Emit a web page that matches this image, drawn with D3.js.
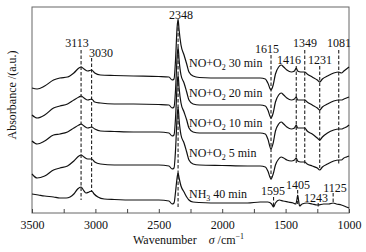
<!DOCTYPE html>
<html><head><meta charset="utf-8">
<script src="https://cdn.jsdelivr.net/npm/d3@7"></script>
<style>
body{margin:0;background:#fff}
svg{display:block}
text{font-family:"Liberation Serif","Times New Roman",serif;fill:#111}
</style>
</head><body>
<svg id="chart" width="366" height="252"></svg>
<script>
// ---- data (wavenumber cm^-1, absorbance a.u.) ----
const seriesNO30 = [[3500,1.25],[3460,1.24],[3400,1.27],[3330,1.33],[3280,1.35],[3220,1.36],[3170,1.40],[3130,1.45],[3113,1.46],[3090,1.44],[3060,1.42],[3030,1.43],[3005,1.40],[2960,1.38],[2850,1.375],[2700,1.37],[2500,1.365],[2420,1.36],[2395,1.33],[2380,1.34],[2368,1.53],[2356,1.85],[2348,1.94],[2340,1.83],[2325,1.68],[2301,1.58],[2280,1.49],[2262,1.41],[2230,1.37],[2180,1.355],[2000,1.35],[1800,1.35],[1700,1.35],[1660,1.34],[1640,1.30],[1615,1.23],[1598,1.28],[1580,1.39],[1555,1.46],[1535,1.48],[1515,1.46],[1490,1.43],[1455,1.41],[1430,1.42],[1416,1.45],[1405,1.42],[1380,1.41],[1349,1.41],[1330,1.39],[1290,1.36],[1250,1.33],[1231,1.31],[1210,1.34],[1170,1.37],[1120,1.40],[1081,1.41],[1060,1.40],[1040,1.42],[1020,1.44],[1000,1.46]];
const seriesNO20 = [[3500,0.98],[3460,0.95],[3400,0.98],[3330,1.05],[3280,1.07],[3220,1.09],[3170,1.13],[3130,1.16],[3113,1.17],[3090,1.15],[3060,1.13],[3030,1.14],[3005,1.11],[2960,1.10],[2850,1.09],[2700,1.09],[2500,1.085],[2420,1.08],[2395,1.05],[2380,1.06],[2368,1.23],[2356,1.55],[2348,1.66],[2340,1.53],[2325,1.38],[2301,1.30],[2280,1.21],[2262,1.13],[2230,1.09],[2180,1.08],[2000,1.08],[1800,1.08],[1700,1.08],[1660,1.07],[1640,1.03],[1615,0.95],[1598,1.00],[1580,1.11],[1555,1.18],[1535,1.20],[1515,1.18],[1490,1.15],[1455,1.13],[1430,1.14],[1416,1.16],[1405,1.13],[1380,1.13],[1349,1.13],[1330,1.11],[1290,1.08],[1250,1.05],[1231,1.03],[1210,1.06],[1170,1.09],[1120,1.12],[1081,1.13],[1060,1.13],[1040,1.14],[1020,1.15],[1000,1.16]];
const seriesNO10 = [[3500,0.72],[3460,0.69],[3400,0.72],[3330,0.78],[3280,0.79],[3220,0.81],[3170,0.85],[3130,0.88],[3113,0.89],[3090,0.87],[3060,0.85],[3030,0.86],[3005,0.84],[2960,0.82],[2850,0.815],[2700,0.81],[2500,0.81],[2420,0.80],[2395,0.77],[2380,0.78],[2368,0.95],[2356,1.27],[2348,1.38],[2340,1.25],[2325,1.10],[2301,1.01],[2280,0.93],[2262,0.85],[2230,0.81],[2180,0.80],[2000,0.80],[1800,0.80],[1700,0.80],[1660,0.79],[1640,0.74],[1615,0.64],[1598,0.70],[1580,0.82],[1555,0.89],[1535,0.91],[1515,0.89],[1490,0.86],[1455,0.84],[1430,0.85],[1416,0.88],[1405,0.85],[1380,0.85],[1349,0.85],[1330,0.82],[1290,0.79],[1250,0.75],[1231,0.73],[1210,0.76],[1170,0.80],[1120,0.83],[1081,0.84],[1060,0.84],[1040,0.85],[1020,0.86],[1000,0.88]];
const seriesNO5 = [[3500,0.39],[3460,0.35],[3400,0.37],[3330,0.43],[3280,0.45],[3220,0.47],[3170,0.52],[3130,0.57],[3113,0.58],[3090,0.56],[3060,0.54],[3030,0.54],[3005,0.51],[2960,0.49],[2850,0.48],[2700,0.48],[2500,0.48],[2420,0.47],[2395,0.44],[2380,0.45],[2368,0.63],[2356,0.95],[2348,1.06],[2340,0.93],[2325,0.78],[2301,0.70],[2280,0.61],[2262,0.53],[2230,0.49],[2180,0.48],[2000,0.475],[1800,0.47],[1700,0.47],[1660,0.46],[1640,0.42],[1615,0.34],[1598,0.39],[1580,0.48],[1555,0.54],[1535,0.56],[1515,0.55],[1490,0.53],[1455,0.52],[1430,0.53],[1416,0.55],[1405,0.52],[1380,0.51],[1349,0.51],[1330,0.49],[1290,0.47],[1250,0.45],[1231,0.43],[1210,0.46],[1170,0.49],[1120,0.52],[1081,0.53],[1060,0.53],[1040,0.55],[1020,0.56],[1000,0.57]];
const seriesNH3 = [[3500,0.19],[3450,0.18],[3400,0.17],[3330,0.16],[3280,0.15],[3230,0.15],[3200,0.16],[3170,0.19],[3140,0.24],[3113,0.26],[3095,0.23],[3075,0.20],[3050,0.21],[3030,0.22],[3010,0.19],[2980,0.16],[2930,0.14],[2850,0.135],[2700,0.13],[2500,0.13],[2420,0.12],[2395,0.09],[2380,0.10],[2368,0.21],[2356,0.35],[2348,0.40],[2340,0.35],[2325,0.27],[2301,0.21],[2280,0.16],[2262,0.13],[2230,0.11],[2180,0.105],[2000,0.10],[1800,0.10],[1700,0.11],[1640,0.11],[1610,0.09],[1595,0.06],[1580,0.10],[1550,0.13],[1520,0.12],[1480,0.11],[1440,0.10],[1420,0.09],[1410,0.14],[1405,0.18],[1398,0.13],[1390,0.07],[1370,0.09],[1330,0.10],[1290,0.09],[1250,0.08],[1243,0.08],[1200,0.09],[1160,0.09],[1125,0.10],[1100,0.09],[1060,0.08],[1020,0.06],[1000,0.05]];

const seriesNames = ["NO+O2 30 min","NO+O2 20 min","NO+O2 10 min","NO+O2 5 min","NH3 40 min"];
const xTicks = [3500,3250,3000,2750,2500,2250,2000,1750,1500,1250,1000];
const bandsNO = [1615,1416,1349,1231,1081];
const bandsCommon = [3113,3030,2348];
const bandsNH3 = [1595,1405,1243,1125];

// ---- layout ----
const W = 366, H = 252;
const m = {left:32, right:17, top:7, bottom:39};
const svg = d3.select("#chart");
const x = d3.scaleLinear().domain([3500,1000]).range([m.left, W-m.right]);
const y = d3.scaleLinear().domain([0,2.06]).range([H-m.bottom, m.top]);

// frame
svg.append("rect").attr("x",m.left).attr("y",m.top)
  .attr("width",W-m.left-m.right).attr("height",H-m.top-m.bottom)
  .attr("fill","none").attr("stroke","#666").attr("stroke-width",1);

// x axis
const xAxis = d3.axisBottom(x).tickValues(xTicks).tickSizeInner(-4).tickSizeOuter(0).tickPadding(7)
  .tickFormat(d => d % 500 === 0 ? d : "");
const gx = svg.append("g").attr("transform",`translate(0,${H-m.bottom})`).call(xAxis);
gx.select(".domain").remove();
gx.selectAll(".tick line").attr("stroke","#444");
gx.selectAll(".tick text").attr("font-size",12).attr("font-family","Liberation Serif").attr("fill","#111");

// dashed reference lines (layout: pixel extents)
const dashLayout = {
  3113:[50,200], 3030:[58,192], 2348:[22,208],
  1615:[55,180], 1416:[66,163], 1349:[50,164], 1231:[66,168], 1081:[50,164],
  1595:[197,208], 1405:[190,204], 1243:[203,208], 1125:[193,204]
};
const allBands = bandsCommon.concat(bandsNO, bandsNH3);
svg.append("g").selectAll("line").data(allBands).join("line")
  .attr("x1",d=>x(d)).attr("x2",d=>x(d))
  .attr("y1",d=>dashLayout[d][0]).attr("y2",d=>dashLayout[d][1])
  .attr("stroke","#222").attr("stroke-width",1.1).attr("stroke-dasharray","3.5,2");

// curves
const line = d3.line().x(d=>x(d[0])).y(d=>y(d[1])).curve(d3.curveMonotoneX);
const allSeries = [seriesNO30, seriesNO20, seriesNO10, seriesNO5, seriesNH3];
svg.append("g").selectAll("path").data(allSeries).join("path")
  .attr("d",line).attr("fill","none").attr("stroke","#111").attr("stroke-width",1.2);

// band labels (layout positions)
const bandLabelPos = {
  3113:[77,47,"middle"], 3030:[89,57,"start"], 2348:[181,19,"middle"],
  1615:[267,53,"middle"], 1349:[305,47,"middle"], 1081:[339,47,"middle"],
  1416:[289,64,"middle"], 1231:[320,64,"middle"],
  1595:[273,195,"middle"], 1405:[298,189,"middle"], 1243:[316,202,"middle"], 1125:[335,192,"middle"]
};
svg.append("g").selectAll("text").data(allBands).join("text")
  .attr("x",d=>bandLabelPos[d][0]).attr("y",d=>bandLabelPos[d][1])
  .attr("text-anchor",d=>bandLabelPos[d][2]).attr("font-size",12).text(d=>d);

// series labels
const seriesLabelY = [67,97,127,157,198];
seriesNames.forEach((name,i)=>{
  const t = svg.append("text").attr("x",189).attr("y",seriesLabelY[i]).attr("font-size",12);
  const mm = name.match(/^(NO\+O|NH)(\d)(.*)$/);
  t.append("tspan").text(mm[1]);
  t.append("tspan").attr("font-size",8).attr("dy",3).text(mm[2]);
  t.append("tspan").attr("dy",-3).text(mm[3]);
});

// axis titles
const xt = svg.append("text").attr("x",133).attr("y",244).attr("font-size",12);
xt.append("tspan").text("Wavenumber");
xt.append("tspan").attr("dx",12).attr("font-style","italic").text("σ");
xt.append("tspan").text(" /cm");
xt.append("tspan").attr("font-size",8).attr("dy",-5).text("−1");

svg.append("text").attr("transform",`translate(16,95) rotate(-90)`)
  .attr("text-anchor","middle").attr("font-size",12).text("Absorbance /(a.u.)");
</script>
</body></html>
